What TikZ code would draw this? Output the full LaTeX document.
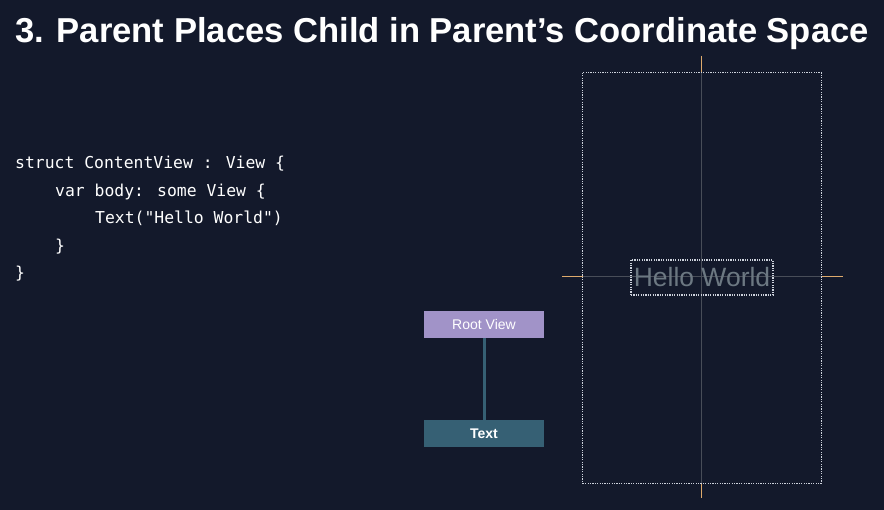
\documentclass[tikz,border=0pt]{standalone}
\usepackage{fontspec}
\setmainfont{Liberation Sans}
\newfontfamily\codefont{DejaVu Sans Mono}
\definecolor{Night}{RGB}{19, 25, 43}
\definecolor{Lavender}{RGB}{161, 147, 200}
\definecolor{Teal}{RGB}{54, 96, 116}
\definecolor{Amber}{RGB}{222, 170, 108}
\definecolor{GuideGray}{RGB}{72, 77, 88}
\definecolor{FrameGray}{RGB}{205, 210, 220}
\definecolor{HelloGray}{RGB}{108, 120, 130}
\usetikzlibrary{positioning}

\begin{document}
\begin{tikzpicture}[x=1pt, y=-1pt, every node/.style={text=white},
    codeline/.style={anchor=base west, inner sep=0pt, font=\codefont\fontsize{16.4}{20}\selectfont},
    viewbox/.style={minimum width=120pt, minimum height=27pt, inner sep=0pt, font=\fontsize{14}{16}\selectfont},
    dotframe/.style={draw=FrameGray, line width=1.3pt, dash pattern=on 1.2pt off 1.2pt}]
    \fill[Night] (0,0) rectangle (884,510);
    \useasboundingbox (0,0) rectangle (884,510);
    % title
    \node[anchor=base, inner sep=0pt, font=\bfseries\fontsize{34.6}{40}\selectfont] (title) at (442,43) {3. Parent Places Child in Parent’s Coordinate Space};
    % code
    \node[codeline] (code1) at (15,169) {struct ContentView : View \{};
    \node[codeline] (code2) at (55,197) {var body: some View \{};
    \node[codeline] (code3) at (95,224) {Text("Hello World")};
    \node[codeline] (code4) at (55,252) {\}};
    \node[codeline] (code5) at (15,279) {\}};
    % view tree
    \node[viewbox, fill=Lavender] (root) at (484,324.5) {Root View};
    \node[viewbox, fill=Teal, font=\bfseries\fontsize{14}{16}\selectfont, below=82pt of root] (text) {Text};
    \draw[Teal, line width=3pt] (root) -- (text);
    % coordinate space
    \coordinate (top) at (701.5,56);
    \coordinate (bottom) at (701.5,498);
    \coordinate (left) at (562,276.5);
    \coordinate (right) at (843,276.5);
    \node[minimum width=238pt, minimum height=410pt, inner sep=0pt] (screen) at (702,278) {};
    \draw[Amber, line width=1.2pt] (top) -- (top |- screen.north);
    \draw[Amber, line width=1.2pt] (bottom |- screen.south) -- (bottom);
    \draw[Amber, line width=1.2pt] (left) -- (left -| screen.west);
    \draw[Amber, line width=1.2pt] (right -| screen.east) -- (right);
    \draw[GuideGray, line width=1pt] (top |- screen.north) -- (bottom |- screen.south);
    \draw[GuideGray, line width=1pt] (left -| screen.west) -- (right -| screen.east);
    \draw[dotframe] (screen.north west) rectangle (screen.south east);
    \node[dotframe, text=HelloGray, minimum width=142pt, minimum height=35pt, inner sep=0pt, font=\fontsize{26.5}{30}\selectfont] (hello) at (702,277.5) {Hello World};
\end{tikzpicture}
\end{document}
